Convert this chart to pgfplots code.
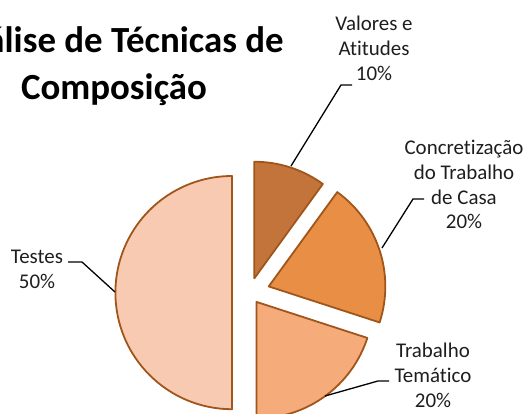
\documentclass[border=0pt]{standalone}
\usepackage{pgfplots}
\pgfplotsset{compat=1.18}
\usepackage{pgfplotstable}
\usepackage{fontspec}
\setmainfont{Carlito}[Ligatures=NoCommon]
\definecolor{cV}{HTML}{C3743A}
\definecolor{cC}{HTML}{E98F45}
\definecolor{cM}{HTML}{F6AB7A}
\definecolor{cT}{HTML}{F8CAB2}
\definecolor{edgec}{HTML}{A0561A}
\definecolor{txt}{HTML}{1E1E1E}
\pgfplotstableread[col sep=comma]{
value,explode,col
10,15,cV
20,20,cC
20,11.5,cM
50,17.7,cT
}\piedata
\def\cx{249.7}
\def\cy{121.4}
\def\R{116.6}
\begin{document}
\begin{tikzpicture}
\begin{axis}[name=ax, hide axis, scale only axis, width=529bp, height=414bp,
  xmin=0, xmax=529, ymin=0, ymax=414, clip=false]
\gdef\curangle{90}
\pgfplotsforeachungrouped \i in {0,1,2,3}{%
  \pgfplotstablegetelem{\i}{value}\of\piedata \let\v=\pgfplotsretval
  \pgfplotstablegetelem{\i}{explode}\of\piedata \let\e=\pgfplotsretval
  \pgfplotstablegetelem{\i}{col}\of\piedata \let\c=\pgfplotsretval
  \pgfmathsetmacro\a{\curangle}%
  \pgfmathsetmacro\b{\curangle-3.6*\v}%
  \pgfmathsetmacro\m{(\a+\b)/2}%
  \pgfmathsetmacro\ox{\cx+\e*cos(\m)}%
  \pgfmathsetmacro\oy{\cy+\e*sin(\m)}%
  \edef\temp{\noexpand\filldraw[fill=\c, draw=edgec, line width=1.8bp, line join=round]
    (axis cs:\ox,\oy) -- ++(\a:\R bp) arc[start angle=\a, end angle=\b, radius=\R bp] -- cycle;}%
  \temp
  \global\let\curangle\b
}
% leader lines
\draw[black, line width=1.3bp] (axis cs:291,248) -- (axis cs:341,329) -- (axis cs:352,329);
\draw[black, line width=1.3bp] (axis cs:382,166) -- (axis cs:413,215) -- (axis cs:424,215);
\draw[black, line width=1.3bp] (axis cs:115,122) -- (axis cs:82,152) -- (axis cs:68,152);
\draw[black, line width=1.3bp] (axis cs:325,18) -- (axis cs:378,33) -- (axis cs:389,33);
% labels
\node[align=center, text=txt, font=\fontsize{21}{25}\selectfont] at (axis cs:374,365.5) {Valores e\\Atitudes\\10\%};
\node[align=center, text=txt, font=\fontsize{21}{25}\selectfont] at (axis cs:464,229.5) {Concretização\\do Trabalho\\de Casa\\20\%};
\node[align=center, text=txt, font=\fontsize{21}{25}\selectfont] at (axis cs:37,144.5) {Testes\\50\%};
\node[align=center, text=txt, font=\fontsize{21}{25}\selectfont] at (axis cs:433,39) {Trabalho\\Temático\\20\%};
% title
\node[align=center, text=black, font=\bfseries\fontsize{37}{47}\selectfont] at (axis cs:114,347.5) {Análise de Técnicas de\\Composição};
\end{axis}
\pgfresetboundingbox
\path (ax.south west) rectangle (ax.north east);
\end{tikzpicture}
\end{document}
